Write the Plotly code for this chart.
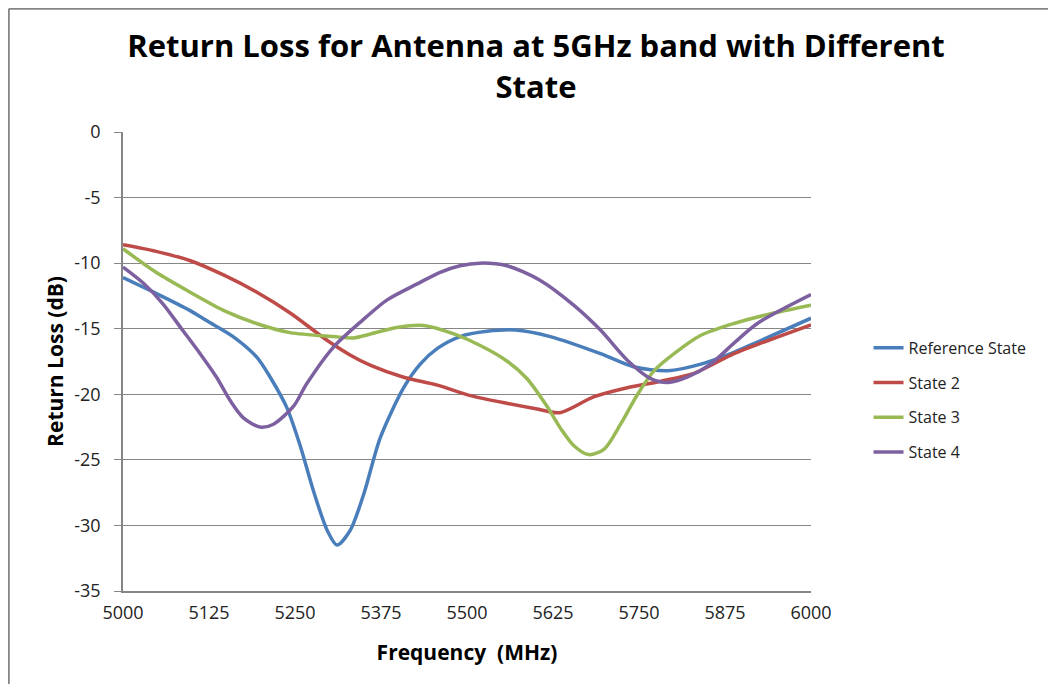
import plotly.graph_objects as go

# ---- data ----
ref_freq = [5000, 5048, 5097, 5122, 5160, 5195, 5214, 5238, 5258, 5277, 5297, 5311, 5330, 5350, 5374,
            5408, 5432, 5457, 5490, 5529, 5570, 5621, 5694, 5742, 5792, 5840, 5888, 5927, 6000]
ref_vals = [-11.1, -12.3, -13.6, -14.4, -15.6, -17.2, -18.7, -21.0, -24.0, -27.4, -30.4, -31.5, -30.4, -27.6, -23.3,
            -19.5, -17.7, -16.5, -15.6, -15.2, -15.1, -15.6, -16.9, -17.9, -18.2, -17.7, -16.8, -15.9, -14.2]

s2_freq = [5000, 5048, 5097, 5146, 5194, 5243, 5297, 5330, 5360, 5408, 5457, 5505, 5559, 5600,
           5635, 5684, 5733, 5782, 5830, 5888, 5927, 6000]
s2_vals = [-8.6, -9.1, -9.8, -10.9, -12.2, -13.8, -15.9, -17.0, -17.8, -18.7, -19.3, -20.1, -20.7, -21.1,
           -21.4, -20.2, -19.5, -19.0, -18.4, -16.9, -16.1, -14.7]

s3_freq = [5000, 5048, 5097, 5146, 5194, 5243, 5306, 5335, 5360, 5398, 5437, 5481, 5520, 5559, 5587,
           5616, 5636, 5655, 5677, 5699, 5723, 5748, 5772, 5801, 5840, 5888, 5946, 6000]
s3_vals = [-8.9, -10.7, -12.2, -13.6, -14.6, -15.3, -15.6, -15.7, -15.4, -14.9, -14.75, -15.4, -16.3, -17.5, -18.8,
           -20.9, -22.6, -23.9, -24.6, -24.2, -22.3, -20.0, -18.2, -16.9, -15.5, -14.6, -13.8, -13.2]

s4_freq = [5000, 5029, 5058, 5085, 5112, 5136, 5156, 5175, 5199, 5218, 5248, 5267, 5306, 5345, 5384,
           5427, 5461, 5490, 5519, 5558, 5606, 5655, 5694, 5733, 5767, 5792, 5820, 5854, 5888, 5922, 6000]
s4_vals = [-10.3, -11.5, -13.1, -15.0, -16.9, -18.7, -20.5, -21.8, -22.5, -22.3, -20.9, -19.2, -16.4, -14.5, -12.8,
           -11.6, -10.7, -10.2, -10.0, -10.2, -11.3, -13.2, -15.1, -17.4, -18.8, -19.1, -18.7, -17.7, -16.1, -14.6, -12.4]

series_names = ["Reference State", "State 2", "State 3", "State 4"]
x_ticks = [5000, 5125, 5250, 5375, 5500, 5625, 5750, 5875, 6000]
y_ticks = [0, -5, -10, -15, -20, -25, -30, -35]

colors = ["#4A7EBB", "#BE4B48", "#98B954", "#7D60A0"]
FONT = "Open Sans"

fig = go.Figure()
for name, fx, fy, c in zip(series_names,
                           [ref_freq, s2_freq, s3_freq, s4_freq],
                           [ref_vals, s2_vals, s3_vals, s4_vals],
                           colors):
    fig.add_trace(go.Scatter(x=fx, y=fy, mode="lines", name=name, legendgroup=name,
                             line=dict(color=c, width=3.5, shape="spline", smoothing=0.8)))

fig.update_layout(
    width=1056, height=684,
    margin=dict(l=115, r=253, t=124, b=101),
    paper_bgcolor="white", plot_bgcolor="white",
    title=dict(text="<b>Return Loss for Antenna at 5GHz band with Different<br>State</b>",
               x=0.5, xanchor="center", y=0.928, yanchor="top",
               font=dict(family=FONT, size=31, color="#000")),
    font=dict(family=FONT, color="#222"),
    legend=dict(x=1.0836, xanchor="left", y=0.567, yanchor="top",
                font=dict(family=FONT, size=16, color="#222"),
                tracegroupgap=11, bgcolor="rgba(0,0,0,0)"),
    showlegend=True,
)

fig.update_xaxes(range=[5000, 6000], tickvals=x_ticks, ticktext=[str(v) for v in x_ticks],
                 showgrid=False, zeroline=False, showline=True, linecolor="#868686", linewidth=1.5,
                 ticks="", ticklabelstandoff=5, tickfont=dict(family=FONT, size=18, color="#222"),
                 title=dict(text="<b>Frequency  (MHz)</b>", font=dict(family=FONT, size=21, color="#000"),
                            standoff=22))
fig.update_yaxes(range=[-35, 0], tickvals=y_ticks, ticktext=[str(v) for v in y_ticks],
                 showgrid=True, gridcolor="#868686", gridwidth=1, zeroline=False,
                 showline=True, linecolor="#868686", linewidth=1.5,
                 ticks="outside", ticklen=7, tickcolor="#868686", ticklabelstandoff=10,
                 tickfont=dict(family=FONT, size=18, color="#222"),
                 title=dict(text="<b>Return Loss (dB)</b>", font=dict(family=FONT, size=21, color="#000"),
                            standoff=5))

# outer chart frame (only left and top edges are visible in the reference)
fig.add_shape(type="line", xref="paper", yref="paper", x0=-0.166, x1=-0.166, y0=-0.5, y1=1.2686,
              line=dict(color="#868686", width=2))
fig.add_shape(type="line", xref="paper", yref="paper", x0=-0.166, x1=1.5, y0=1.2686, y1=1.2686,
              line=dict(color="#868686", width=2))

fig.write_html("out.html")
